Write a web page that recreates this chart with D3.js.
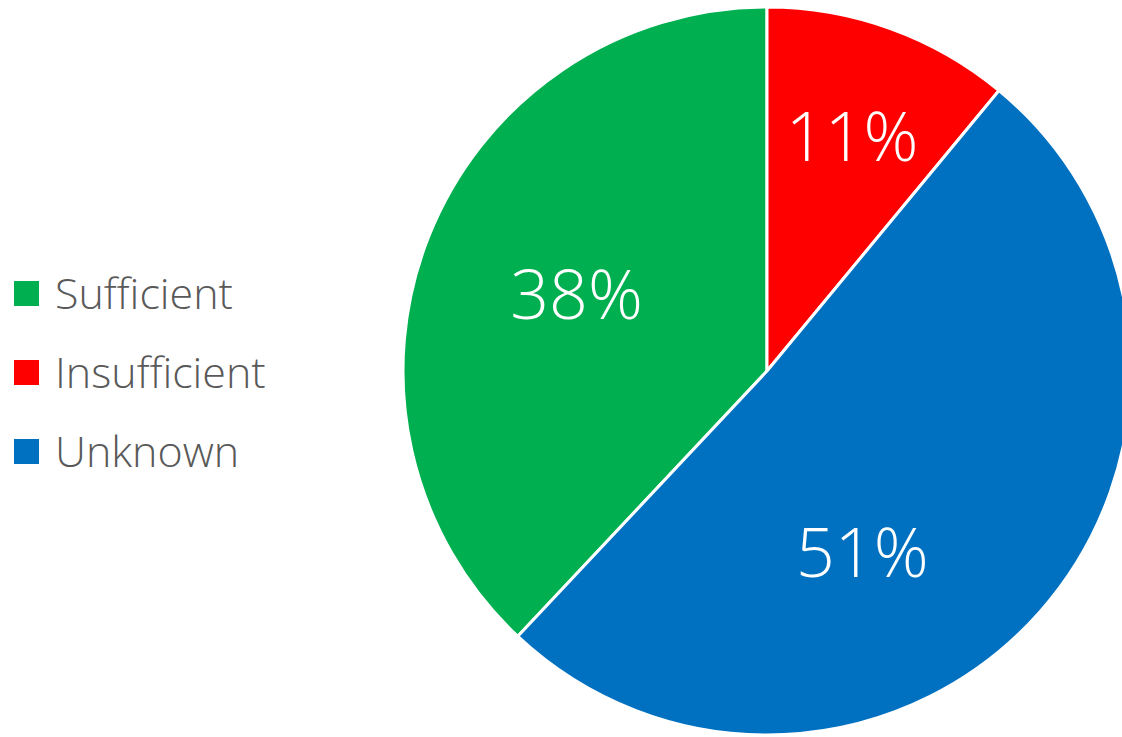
<!DOCTYPE html>
<html>
<head>
<meta charset="utf-8">
<script src="https://cdn.jsdelivr.net/npm/d3@7"></script>
<style>
  body { margin: 0; background: #fff; overflow: hidden; }
  svg { display: block; }
  text { font-family: "Open Sans", "Segoe UI", sans-serif; font-weight: 300; }
</style>
</head>
<body>
<div id="chart"></div>
<script>
// data
const categories = ["Sufficient", "Insufficient", "Unknown"]
const shares = [38, 11, 51]
const labels = ["38%", "11%", "51%"]
const colors = ["#00b050", "#ff0000", "#0070c0"]

const w = 1122,
      h = 737,
      cx = 767,
      cy = 371,
      radius = 364,
      labelRadius = 207

// Excel rotates the first slice so Sufficient ends at 12 o'clock
const startAngle = -2 * Math.PI * shares[0] / d3.sum(shares)

// Excel's best-fit label nudges (px) away from the midpoint
const labelNudge = {
  "Sufficient": [2, 0],
  "Insufficient": [15, -40],
  "Unknown": [-60, 45]
}

const svg = d3.select("#chart").append("svg")
  .attr("width", w)
  .attr("height", h)

const pie = d3.pie()
  .sort(null)
  .value(d => d.value)
  .startAngle(startAngle)
  .endAngle(startAngle + 2 * Math.PI)

const data = categories.map((c, i) => ({name: c, value: shares[i], label: labels[i], color: colors[i]}))

const arc = d3.arc().innerRadius(0).outerRadius(radius)

const g = svg.append("g")
  .attr("transform", `translate(${cx}, ${cy})`)

g.selectAll("path")
  .data(pie(data))
  .join("path")
  .attr("d", arc)
  .attr("fill", d => d.data.color)
  .attr("stroke", "#fff")
  .attr("stroke-width", 3)
  .attr("stroke-linejoin", "round")

// percentage labels
const labelPoint = d => {
  const a = (d.startAngle + d.endAngle) / 2
  const n = labelNudge[d.data.name]
  return [Math.sin(a) * labelRadius + n[0], -Math.cos(a) * labelRadius + n[1]]
}

g.selectAll("text.pct")
  .data(pie(data))
  .join("text")
  .attr("class", "pct")
  .attr("x", d => labelPoint(d)[0])
  .attr("y", d => labelPoint(d)[1])
  .attr("dy", "0.36em")
  .attr("text-anchor", "middle")
  .attr("fill", "#fff")
  .style("font-size", "68px")
  .text(d => d.data.label)

// legend
const legendY = d3.scalePoint()
  .domain(categories)
  .range([293.5, 451.5])

const legend = svg.append("g")
  .selectAll("g")
  .data(data)
  .join("g")
  .attr("transform", d => `translate(14, ${legendY(d.name)})`)

legend.append("rect")
  .attr("x", 0)
  .attr("y", -12.5)
  .attr("width", 25)
  .attr("height", 25)
  .attr("fill", d => d.color)

legend.append("text")
  .attr("x", 41)
  .attr("dy", "0.36em")
  .attr("fill", "#595959")
  .style("font-size", "43px")
  .text(d => d.name)
</script>
</body>
</html>
